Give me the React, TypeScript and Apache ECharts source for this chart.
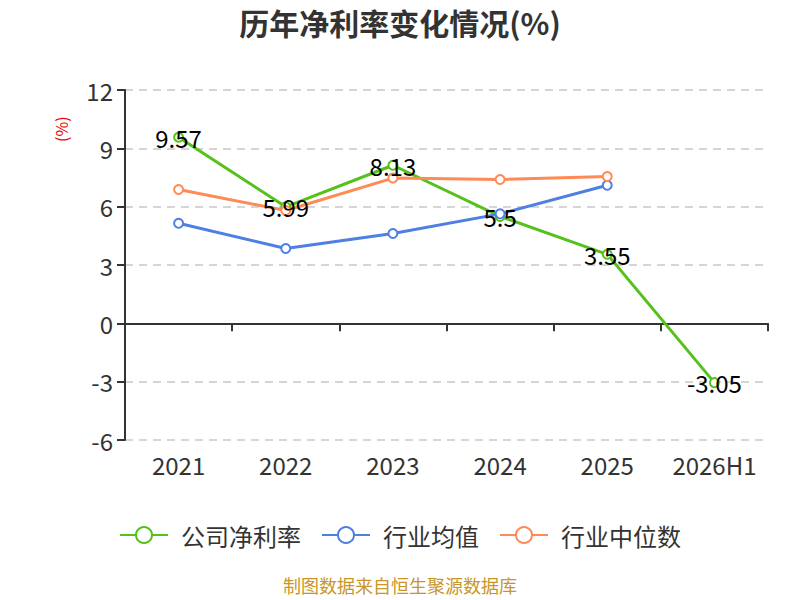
import { useEffect, useRef } from "react";
import * as echarts from "echarts";

const years = ["2021", "2022", "2023", "2024", "2025", "2026H1"];
const companyMargin = [9.57, 5.99, 8.13, 5.5, 3.55, -3.05];
const industryAvg = [5.15, 3.85, 4.62, 5.63, 7.1, null];
const industryMedian = [6.88, 5.8, 7.47, 7.4, 7.55, null];

const FONT = "'Noto Sans CJK SC', 'Noto Sans', sans-serif";

export default function App() {
  const ref = useRef<HTMLDivElement>(null);

  useEffect(() => {
    if (!ref.current) return;
    const chart = echarts.init(ref.current, undefined, { renderer: "svg" });

    const lineSeries = (
      name: string,
      color: string,
      data: (number | null)[],
      showLabel: boolean,
    ) => ({
      name,
      type: "line" as const,
      data,
      symbol: "emptyCircle",
      symbolSize: 9,
      showSymbol: true,
      lineStyle: { color, width: 3 },
      itemStyle: { color, borderWidth: 2 },
      label: {
        show: showLabel,
        position: "inside",
        color: "#000",
        fontSize: 24,
        fontFamily: FONT,
      },
    });

    chart.setOption({
      animation: false,
      textStyle: { fontFamily: FONT },
      title: {
        text: "历年净利率变化情况(%)",
        left: "center",
        top: 2,
        textStyle: { fontSize: 30, fontWeight: "bold", color: "#333", fontFamily: FONT },
      },
      grid: { left: 125, right: 32, top: 90, bottom: 160 },
      legend: {
        top: 518,
        left: "center",
        itemWidth: 48,
        itemHeight: 20,
        itemGap: 20,
        textStyle: {
          fontSize: 24,
          color: "#333",
          fontFamily: FONT,
          padding: [0, 0, 0, 8],
        },
        data: ["公司净利率", "行业均值", "行业中位数"],
      },
      xAxis: [
        {
          type: "category",
          data: years,
          boundaryGap: true,
          axisLine: { onZero: true, lineStyle: { color: "#333", width: 2 } },
          axisTick: { show: true, length: 8, lineStyle: { color: "#333", width: 2 } },
          axisLabel: { show: false },
        },
        {
          type: "category",
          data: years,
          position: "bottom",
          boundaryGap: true,
          axisLine: { show: false, onZero: false },
          axisTick: { show: false },
          axisLabel: {
            interval: 0,
            fontSize: 24,
            color: "#333",
            margin: 12,
            fontFamily: FONT,
          },
        },
      ],
      yAxis: {
        type: "value",
        min: -6,
        max: 12,
        interval: 3,
        axisLine: { show: true, lineStyle: { color: "#333", width: 2 } },
        axisTick: { show: true, length: 8, lineStyle: { color: "#333", width: 2 } },
        axisLabel: { fontSize: 24, color: "#333", margin: 12, fontFamily: FONT },
        splitLine: { lineStyle: { color: "#c8c8c8", type: [8, 6], width: 1.5 } },
      },
      graphic: [
        {
          type: "text",
          x: 53,
          y: 142,
          rotation: Math.PI / 2,
          style: { text: "(%)", fill: "#e00", fontSize: 16, fontFamily: FONT },
        },
        {
          type: "text",
          left: "center",
          top: 576,
          style: {
            text: "制图数据来自恒生聚源数据库",
            fill: "#c9952b",
            fontSize: 18,
            fontFamily: FONT,
          },
        },
      ],
      series: [
        lineSeries("公司净利率", "#55c11b", companyMargin, true),
        lineSeries("行业均值", "#4e7fe2", industryAvg, false),
        lineSeries("行业中位数", "#ff8a56", industryMedian, false),
      ],
    });

    return () => chart.dispose();
  }, []);

  return (
    <div
      ref={ref}
      style={{ position: "absolute", left: 0, top: 0, width: 800, height: 600 }}
    />
  );
}
